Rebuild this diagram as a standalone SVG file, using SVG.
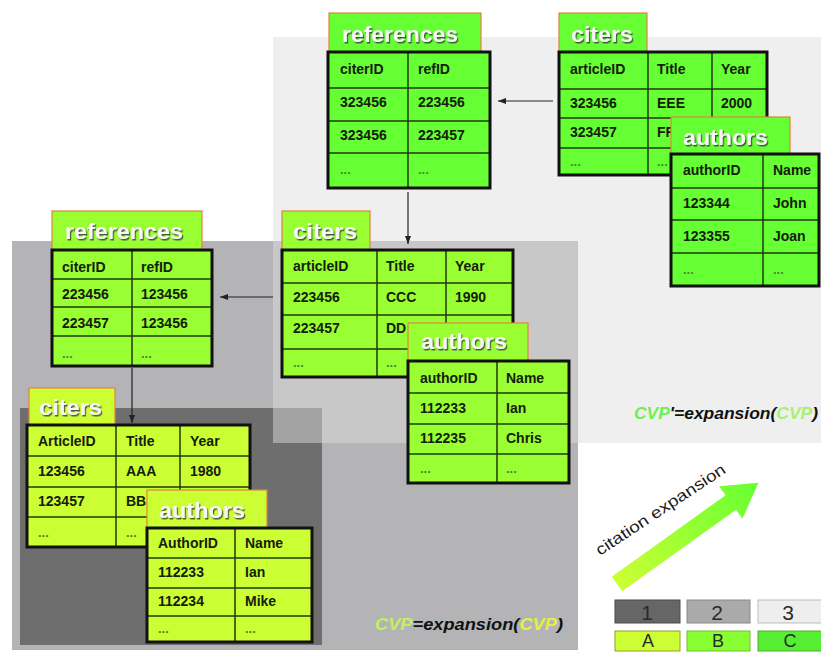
<svg xmlns="http://www.w3.org/2000/svg" width="821" height="652" viewBox="0 0 821 652">
<defs>
  <style>
    .c1 { fill: #ccff33; }
    .c2 { fill: #99ff33; }
    .c3 { fill: #66ff33; }
    .tab { stroke: #e0843c; stroke-width: 1.2; }
    .frame { fill: none; stroke: #111; stroke-width: 3; }
    .grid { fill: none; stroke: #1e3a0e; stroke-width: 1.5; }
    .ttl { font-family: "Liberation Sans", Arial, sans-serif; font-weight: bold; font-size: 22px; fill: #f6f6f6; filter: url(#emboss); }
    .cell { font-family: "Liberation Sans", Arial, sans-serif; font-weight: bold; font-size: 14px; fill: #15200a; }
    .dots { font-family: "Liberation Sans", Arial, sans-serif; font-weight: bold; font-size: 13px; fill: #458a25; }
    .fx { font-family: "Liberation Sans", Arial, sans-serif; font-weight: bold; font-style: italic; font-size: 17px; fill: #111; }
    .lg { font-family: "Liberation Sans", Arial, sans-serif; font-size: 21px; text-anchor: middle; fill: #2a2a2a; }
    .lg2 { font-family: "Liberation Sans", Arial, sans-serif; font-size: 18px; text-anchor: middle; fill: #2a2a2a; }
    .wire { stroke: #222; stroke-width: 1.2; fill: none; marker-end: url(#head); }
  </style>
  <filter id="emboss" x="-10%" y="-20%" width="130%" height="150%">
    <feDropShadow dx="1.2" dy="1.5" stdDeviation="0.6" flood-color="#333" flood-opacity="0.8"/>
  </filter>
  <marker id="head" viewBox="0 0 8 6" refX="8" refY="3" markerWidth="8" markerHeight="6" markerUnits="userSpaceOnUse" orient="auto">
    <path d="M0,0 L8,3 L0,6 z" fill="#222"/>
  </marker>
  <linearGradient id="bigArrow" x1="0" y1="0" x2="174" y2="0" gradientUnits="userSpaceOnUse">
    <stop offset="0" stop-color="#ccff33"/>
    <stop offset="1" stop-color="#66ff33"/>
  </linearGradient>
</defs>

<rect width="821" height="652" fill="#ffffff"/>

<!-- level backgrounds -->
<g id="levels">
  <rect x="12" y="241" width="566" height="409" fill="#b4b4b6"/>
  <rect x="20" y="408" width="302" height="237" fill="#6e6e6e"/>
  <rect x="273" y="37" width="548" height="406" fill="#dedede" fill-opacity="0.48"/>
</g>

<!-- connectors -->
<g id="connectors">
  <line class="wire" x1="553" y1="101" x2="498" y2="101"/>
  <line class="wire" x1="408" y1="192" x2="408" y2="244"/>
  <line class="wire" x1="273" y1="297" x2="220" y2="297"/>
  <line class="wire" x1="132" y1="368" x2="132" y2="423"/>
</g>

<!-- level 3 tables -->
<g id="references-3">
  <rect class="tab c3" x="329" y="13" width="152" height="39"/>
  <text class="ttl" x="342" y="42" textLength="116" lengthAdjust="spacingAndGlyphs">references</text>
  <rect class="c3" x="328" y="52" width="162" height="136"/>
  <path class="grid" d="M408,52V188 M328,88H490 M328,121H490 M328,153H490"/>
  <rect class="frame" x="328" y="52" width="162" height="136"/>
  <text class="cell" x="340" y="74">citerID</text>
  <text class="cell" x="418" y="74">refID</text>
  <text class="cell" x="340" y="107">323456</text>
  <text class="cell" x="418" y="107">223456</text>
  <text class="cell" x="340" y="140">323456</text>
  <text class="cell" x="418" y="140">223457</text>
  <text class="dots" x="340" y="174">...</text>
  <text class="dots" x="418" y="174">...</text>
</g>

<g id="citers-3">
  <rect class="tab c3" x="559" y="13" width="88" height="39"/>
  <text class="ttl" x="571" y="42" textLength="62" lengthAdjust="spacingAndGlyphs">citers</text>
  <rect class="c3" x="559" y="52" width="208" height="123"/>
  <path class="grid" d="M648,52V175 M712,52V175 M559,89H767 M559,118H767 M559,148H767"/>
  <rect class="frame" x="559" y="52" width="208" height="123"/>
  <text class="cell" x="570" y="74">articleID</text>
  <text class="cell" x="657" y="74">Title</text>
  <text class="cell" x="721" y="74">Year</text>
  <text class="cell" x="570" y="108">323456</text>
  <text class="cell" x="657" y="108">EEE</text>
  <text class="cell" x="721" y="108">2000</text>
  <text class="cell" x="570" y="137">323457</text>
  <text class="cell" x="657" y="137">FF</text>
  <text class="dots" x="570" y="166">...</text>
  <text class="dots" x="657" y="166">...</text>
</g>

<g id="authors-3">
  <rect class="tab c3" x="671" y="117" width="119" height="37"/>
  <text class="ttl" x="683" y="145" textLength="85" lengthAdjust="spacingAndGlyphs">authors</text>
  <rect class="c3" x="671" y="154" width="148" height="132"/>
  <path class="grid" d="M763,154V286 M671,188H819 M671,220H819 M671,253H819"/>
  <rect class="frame" x="671" y="154" width="148" height="132"/>
  <text class="cell" x="683" y="175">authorID</text>
  <text class="cell" x="773" y="175">Name</text>
  <text class="cell" x="683" y="208">123344</text>
  <text class="cell" x="773" y="208">John</text>
  <text class="cell" x="683" y="241">123355</text>
  <text class="cell" x="773" y="241">Joan</text>
  <text class="dots" x="683" y="274">...</text>
  <text class="dots" x="773" y="274">...</text>
</g>

<!-- level 2 tables -->
<g id="references-2">
  <rect class="tab c2" x="52" y="211" width="150" height="39"/>
  <text class="ttl" x="65" y="239" textLength="118" lengthAdjust="spacingAndGlyphs">references</text>
  <rect class="c2" x="52" y="250" width="160" height="116"/>
  <path class="grid" d="M132,250V366 M52,279H212 M52,307H212 M52,336H212"/>
  <rect class="frame" x="52" y="250" width="160" height="116"/>
  <text class="cell" x="62" y="272">citerID</text>
  <text class="cell" x="141" y="272">refID</text>
  <text class="cell" x="62" y="299">223456</text>
  <text class="cell" x="141" y="299">123456</text>
  <text class="cell" x="62" y="328">223457</text>
  <text class="cell" x="141" y="328">123456</text>
  <text class="dots" x="62" y="358">...</text>
  <text class="dots" x="141" y="358">...</text>
</g>

<g id="citers-2">
  <rect class="tab c2" x="282" y="211" width="88" height="39"/>
  <text class="ttl" x="293" y="239" textLength="64" lengthAdjust="spacingAndGlyphs">citers</text>
  <rect class="c2" x="282" y="250" width="231" height="127"/>
  <path class="grid" d="M377,250V377 M446,250V377 M282,283H513 M282,315H513 M282,349H513"/>
  <rect class="frame" x="282" y="250" width="231" height="127"/>
  <text class="cell" x="293" y="271">articleID</text>
  <text class="cell" x="386" y="271">Title</text>
  <text class="cell" x="455" y="271">Year</text>
  <text class="cell" x="293" y="302">223456</text>
  <text class="cell" x="386" y="302">CCC</text>
  <text class="cell" x="455" y="302">1990</text>
  <text class="cell" x="293" y="333">223457</text>
  <text class="cell" x="386" y="333">DD</text>
  <text class="dots" x="293" y="367">...</text>
  <text class="dots" x="386" y="367">...</text>
</g>

<g id="authors-2">
  <rect class="tab c2" x="408" y="323" width="120" height="38"/>
  <text class="ttl" x="421" y="349" textLength="86" lengthAdjust="spacingAndGlyphs">authors</text>
  <rect class="c2" x="408" y="361" width="161" height="122"/>
  <path class="grid" d="M497,361V483 M408,393H569 M408,424H569 M408,454H569"/>
  <rect class="frame" x="408" y="361" width="161" height="122"/>
  <text class="cell" x="420" y="383">authorID</text>
  <text class="cell" x="506" y="383">Name</text>
  <text class="cell" x="420" y="413">112233</text>
  <text class="cell" x="506" y="413">Ian</text>
  <text class="cell" x="420" y="443">112235</text>
  <text class="cell" x="506" y="443">Chris</text>
  <text class="dots" x="420" y="473">...</text>
  <text class="dots" x="506" y="473">...</text>
</g>

<!-- level 1 tables -->
<g id="citers-1">
  <rect class="tab c1" x="29" y="388" width="86" height="37"/>
  <text class="ttl" x="39" y="415" textLength="63" lengthAdjust="spacingAndGlyphs">citers</text>
  <rect class="c1" x="27" y="425" width="223" height="122"/>
  <path class="grid" d="M116,425V547 M180,425V547 M27,456H250 M27,487H250 M27,517H250"/>
  <rect class="frame" x="27" y="425" width="223" height="122"/>
  <text class="cell" x="38" y="446">ArticleID</text>
  <text class="cell" x="126" y="446">Title</text>
  <text class="cell" x="190" y="446">Year</text>
  <text class="cell" x="38" y="476">123456</text>
  <text class="cell" x="126" y="476">AAA</text>
  <text class="cell" x="190" y="476">1980</text>
  <text class="cell" x="38" y="506">123457</text>
  <text class="cell" x="126" y="506">BB</text>
  <text class="dots" x="38" y="537">...</text>
  <text class="dots" x="126" y="537">...</text>
</g>

<g id="authors-1">
  <rect class="tab c1" x="147" y="490" width="120" height="38"/>
  <text class="ttl" x="159" y="518" textLength="86" lengthAdjust="spacingAndGlyphs">authors</text>
  <rect class="c1" x="147" y="528" width="165" height="114"/>
  <path class="grid" d="M235,528V642 M147,558H312 M147,588H312 M147,616H312"/>
  <rect class="frame" x="147" y="528" width="165" height="114"/>
  <text class="cell" x="158" y="548">AuthorID</text>
  <text class="cell" x="245" y="548">Name</text>
  <text class="cell" x="158" y="577">112233</text>
  <text class="cell" x="245" y="577">Ian</text>
  <text class="cell" x="158" y="606">112234</text>
  <text class="cell" x="245" y="606">Mike</text>
  <text class="dots" x="158" y="633">...</text>
  <text class="dots" x="245" y="633">...</text>
</g>

<!-- expansion formulas -->
<g id="formulas">
  <text class="fx" x="634" y="419" textLength="184" lengthAdjust="spacingAndGlyphs"><tspan fill="#6ef050">CVP</tspan>'=expansion(<tspan fill="#a8f070">CVP</tspan>)</text>
  <text class="fx" x="375" y="630" textLength="188" lengthAdjust="spacingAndGlyphs"><tspan fill="#c4f060">CVP</tspan>=expansion(<tspan fill="#e2f048">CVP</tspan>)</text>
</g>

<!-- expansion direction arrow -->
<g id="expansion-arrow">
  <path transform="translate(617,584) rotate(-35.6)" d="M0,-9 H140 V-20 L174,0 L140,20 V9 H0 z" fill="url(#bigArrow)"/>
  <text transform="translate(600,556) rotate(-33.5)" x="0" y="0" font-family="Liberation Sans, Arial, sans-serif" font-size="16" fill="#1a1a1a" textLength="152" lengthAdjust="spacingAndGlyphs">citation expansion</text>
</g>

<!-- legend -->
<g id="legend">
  <rect x="615" y="600" width="65" height="23" fill="#666666" stroke="#4a4a4a"/>
  <rect x="687" y="600" width="63" height="23" fill="#aaaaaa" stroke="#888888"/>
  <rect x="758" y="600" width="70" height="23" fill="#eeeeee" stroke="#bbbbbb"/>
  <rect x="615" y="631" width="65" height="20" fill="#ccff33" stroke="#9a9a30"/>
  <rect x="687" y="631" width="63" height="20" fill="#88ff33" stroke="#77bb33"/>
  <rect x="758" y="631" width="70" height="20" fill="#55ee33" stroke="#55aa33"/>
  <text class="lg" x="647" y="620">1</text>
  <text class="lg" x="717" y="620">2</text>
  <text class="lg" x="788" y="620" fill="#555">3</text>
  <text class="lg2" x="648" y="647">A</text>
  <text class="lg2" x="718" y="647">B</text>
  <text class="lg2" x="790" y="647">C</text>
</g>
</svg>
